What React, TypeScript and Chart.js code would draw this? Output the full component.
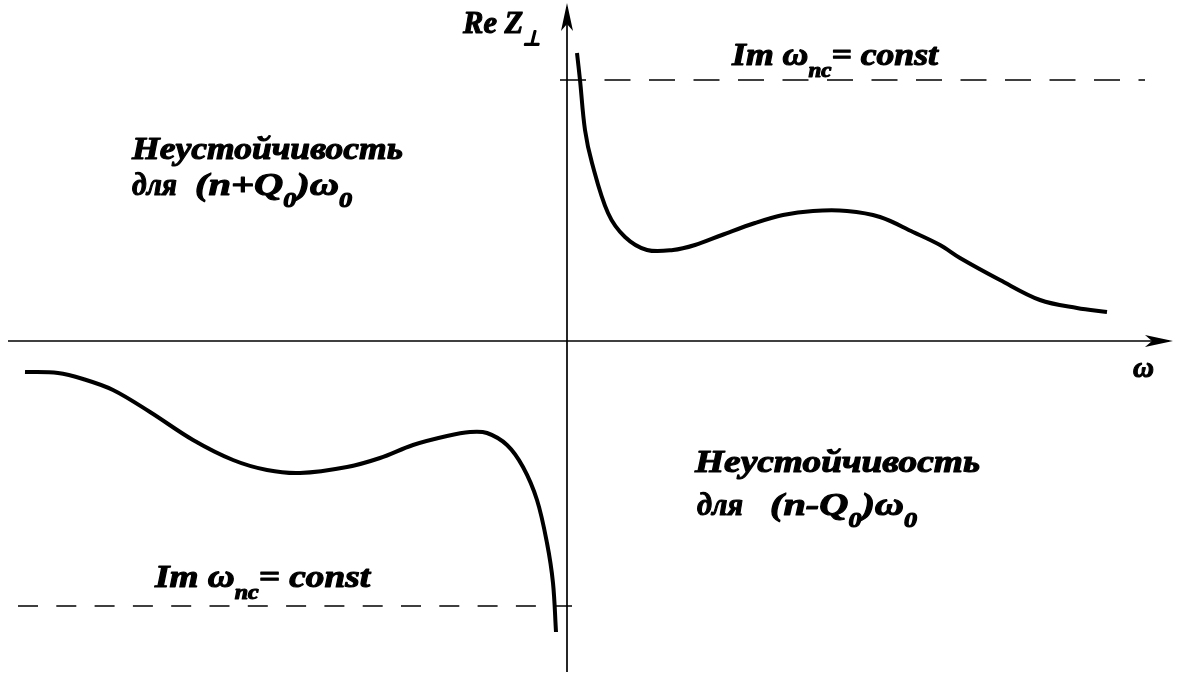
import { useEffect, useRef } from "react";
import { Chart, registerables } from "chart.js";

Chart.register(...registerables);

// Re Z⊥ versus ω, right-hand branch (ω > 0)
const upperOmega = [0.10, 0.13, 0.18, 0.25, 0.41, 0.58, 0.80, 1.06, 1.28, 1.55, 1.88, 2.16, 2.46, 2.80, 3.13, 3.46, 3.73, 3.93, 4.33, 4.73, 5.10, 5.40];
const upperReZ = [2.88, 2.61, 2.11, 1.78, 1.28, 1.04, 0.91, 0.91, 0.96, 1.06, 1.18, 1.26, 1.30, 1.30, 1.24, 1.09, 0.96, 0.83, 0.61, 0.41, 0.33, 0.29];

// Re Z⊥ versus ω, left-hand branch (ω < 0)
const lowerOmega = [-5.42, -5.09, -4.84, -4.54, -4.17, -3.74, -3.34, -3.00, -2.67, -2.20, -1.87, -1.54, -1.20, -0.97, -0.80, -0.60, -0.44, -0.30, -0.20, -0.14, -0.11];
const lowerReZ = [-0.31, -0.32, -0.38, -0.49, -0.71, -0.99, -1.19, -1.29, -1.32, -1.26, -1.17, -1.04, -0.95, -0.91, -0.92, -1.04, -1.26, -1.59, -2.02, -2.42, -2.91];

// Im ω_nc = const levels and their ω extents
const constLevels = [2.61, -2.65];
const constUpperSpan = [-0.07, 5.78];
const constLowerSpan = [-5.49, 0.05];

// Axis extents (ω axis, Re Z⊥ axis)
const omegaAxisSpan = [-5.59, 6.06];
const reZAxisSpan = [-3.31, 3.38];

// Plot window
const omegaRange = [-5.67, 6.15];
const reZRange = [-3.36, 3.41];

type Run = { text: string; sub?: boolean };
type Label = { runs: Run[]; left: number; right: number; base: number; size: number };

const FONT_FAMILY = '"Liberation Serif", "Times New Roman", serif';

const labels: Label[] = [
  { runs: [{ text: "Re Z" }, { text: "⊥", sub: true }], left: -1.04, right: -0.27, base: 3.08, size: 31 },
  { runs: [{ text: "Im ω" }, { text: "nc", sub: true }, { text: "= const" }], left: 1.65, right: 3.71, base: 2.76, size: 31 },
  { runs: [{ text: "Im ω" }, { text: "nc", sub: true }, { text: "= const" }], left: -4.12, right: -1.97, base: -2.46, size: 31 },
  { runs: [{ text: "Неустойчивость" }], left: -4.35, right: -1.64, base: 1.82, size: 31 },
  { runs: [{ text: "для" }], left: -4.35, right: -3.90, base: 1.46, size: 31 },
  { runs: [{ text: "(n+Q" }, { text: "0", sub: true }, { text: ")ω" }, { text: "0", sub: true }], left: -3.72, right: -2.15, base: 1.46, size: 31 },
  { runs: [{ text: "Неустойчивость" }], left: 1.28, right: 4.13, base: -1.31, size: 31 },
  { runs: [{ text: "для" }], left: 1.30, right: 1.76, base: -1.74, size: 31 },
  { runs: [{ text: "(n-Q" }, { text: "0", sub: true }, { text: ")ω" }, { text: "0", sub: true }], left: 2.03, right: 3.50, base: -1.74, size: 31 },
  { runs: [{ text: "ω" }], left: 5.66, right: 5.87, base: -0.36, size: 30 },
];

const toPoints = (xs: number[], ys: number[]) => xs.map((x, i) => ({ x, y: ys[i] }));

function drawArrowHead(ctx: CanvasRenderingContext2D, tx: number, ty: number, dx: number, dy: number) {
  const px = -dy;
  const py = dx;
  const pt = (a: number, b: number): [number, number] => [tx - dx * a + px * b, ty - dy * a + py * b];
  const pts = [pt(0, 0), pt(14, 3), pt(28, 6), pt(21, 0), pt(28, -6), pt(14, -3)];
  ctx.beginPath();
  ctx.moveTo(pts[0][0], pts[0][1]);
  for (let i = 1; i < pts.length; i++) ctx.lineTo(pts[i][0], pts[i][1]);
  ctx.closePath();
  ctx.fill();
}

function drawLabel(ctx: CanvasRenderingContext2D, label: Label, sx: (v: number) => number, sy: (v: number) => number) {
  const mainFont = `italic bold ${label.size}px ${FONT_FAMILY}`;
  const subSize = Math.round(label.size * 0.66);
  const subFont = `italic bold ${subSize}px ${FONT_FAMILY}`;
  let natural = 0;
  for (const r of label.runs) {
    ctx.font = r.sub ? subFont : mainFont;
    natural += ctx.measureText(r.text).width;
  }
  const left = sx(label.left);
  const target = sx(label.right) - left;
  const scale = target / natural;
  ctx.save();
  ctx.translate(left, sy(label.base));
  ctx.scale(scale, 1);
  ctx.textBaseline = "alphabetic";
  ctx.textAlign = "left";
  ctx.fillStyle = "#000";
  ctx.strokeStyle = "#000";
  ctx.lineWidth = 1.1;
  ctx.lineJoin = "round";
  let x = 0;
  for (const r of label.runs) {
    ctx.font = r.sub ? subFont : mainFont;
    const dy = r.sub ? label.size * 0.4 : 0;
    ctx.fillText(r.text, x, dy);
    ctx.strokeText(r.text, x, dy);
    x += ctx.measureText(r.text).width;
  }
  ctx.restore();
}

const diagramPlugin = {
  id: "diagramDecor",
  beforeDraw(chart: any) {
    const ctx = chart.ctx as CanvasRenderingContext2D;
    ctx.save();
    ctx.fillStyle = "#fff";
    ctx.fillRect(0, 0, chart.width, chart.height);
    ctx.restore();
  },
  beforeDatasetsDraw(chart: any) {
    const ctx = chart.ctx as CanvasRenderingContext2D;
    const xs = chart.scales.x;
    const ys = chart.scales.y;
    const x0 = xs.getPixelForValue(0);
    const y0 = ys.getPixelForValue(0);
    ctx.save();
    ctx.strokeStyle = "#000";
    ctx.fillStyle = "#000";
    ctx.lineWidth = 1.7;
    // ω axis
    const xa = xs.getPixelForValue(omegaAxisSpan[0]);
    const xb = xs.getPixelForValue(omegaAxisSpan[1]);
    ctx.beginPath();
    ctx.moveTo(xa, y0);
    ctx.lineTo(xb - 4, y0);
    ctx.stroke();
    drawArrowHead(ctx, xb, y0, 1, 0);
    // Re Z⊥ axis
    const ya = ys.getPixelForValue(reZAxisSpan[0]);
    const yb = ys.getPixelForValue(reZAxisSpan[1]);
    ctx.beginPath();
    ctx.moveTo(x0, ya);
    ctx.lineTo(x0, yb + 4);
    ctx.stroke();
    drawArrowHead(ctx, x0, yb, 0, -1);
    ctx.restore();
  },
  afterDatasetsDraw(chart: any) {
    const ctx = chart.ctx as CanvasRenderingContext2D;
    const xs = chart.scales.x;
    const ys = chart.scales.y;
    for (const l of labels) {
      drawLabel(ctx, l, (v) => xs.getPixelForValue(v), (v) => ys.getPixelForValue(v));
    }
  },
};

export default function App() {
  const canvasRef = useRef<HTMLCanvasElement>(null);

  useEffect(() => {
    const canvas = canvasRef.current;
    if (!canvas) return;
    const chart = new Chart(canvas, {
      type: "scatter",
      data: {
        datasets: [
          {
            data: toPoints(upperOmega, upperReZ),
            showLine: true,
            borderColor: "#000",
            borderWidth: 4,
            pointRadius: 0,
            tension: 0.35,
          },
          {
            data: toPoints(lowerOmega, lowerReZ),
            showLine: true,
            borderColor: "#000",
            borderWidth: 4,
            pointRadius: 0,
            tension: 0.35,
          },
          {
            data: toPoints(constUpperSpan, [constLevels[0], constLevels[0]]),
            showLine: true,
            borderColor: "#000",
            borderWidth: 1.6,
            borderDash: [26, 18.5],
            pointRadius: 0,
          },
          {
            data: toPoints(constLowerSpan, [constLevels[1], constLevels[1]]),
            showLine: true,
            borderColor: "#000",
            borderWidth: 1.6,
            borderDash: [20, 18.3],
            pointRadius: 0,
          },
        ],
      } as any,
      options: {
        animation: false,
        responsive: false,
        events: [],
        layout: { padding: 0 },
        plugins: { legend: { display: false }, tooltip: { enabled: false } },
        scales: {
          x: { type: "linear", min: omegaRange[0], max: omegaRange[1], display: false },
          y: { type: "linear", min: reZRange[0], max: reZRange[1], display: false },
        },
      },
      plugins: [diagramPlugin],
    });
    return () => chart.destroy();
  }, []);

  return (
    <div style={{ position: "fixed", left: 0, top: 0, width: 1182, height: 677, background: "#fff" }}>
      <canvas ref={canvasRef} width={1182} height={677} style={{ display: "block", width: 1182, height: 677 }} />
    </div>
  );
}
